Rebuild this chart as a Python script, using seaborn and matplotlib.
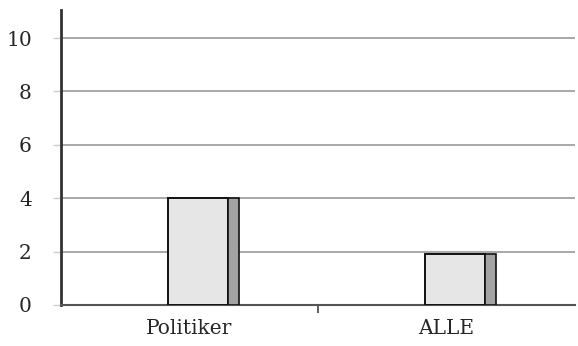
import matplotlib
matplotlib.use('Agg')
import matplotlib.pyplot as plt
import seaborn as sns
import pandas as pd

# data
categories = ['Politiker', 'ALLE']
values = [4.0, 1.9]
yticks = [0, 2, 4, 6, 8, 10]

sns.set_style('white')
plt.rcParams['font.family'] = ['DejaVu Serif']

df = pd.DataFrame({'kategorie': categories, 'wert': values})

fig = plt.figure(figsize=(5.78, 3.46), dpi=100)
ax = fig.add_axes([61/578, 41/346, 514/578, 295/346])

# front face of the bars
sns.barplot(data=df, x='kategorie', y='wert', width=0.234, color='#e6e6e6',
            edgecolor='#111111', linewidth=1.4, saturation=1, ax=ax, zorder=3)
for p in ax.patches:
    p.set_x(p.get_x() + 0.033)

# darker side face
xs = [i + 0.15 for i in range(len(categories))]
ax.bar(xs, values, width=0.043, align='edge', color='#a3a3a3',
       edgecolor='#111111', linewidth=1.2, zorder=3)

ax.set_xlim(-0.5, 1.5)
ax.set_ylim(0, 11.05)
ax.set_yticks(yticks)
ax.yaxis.grid(True, color='#9a9a9a', linewidth=1.2, zorder=0)
ax.set_axisbelow(True)

ax.set_xlabel('')
ax.set_ylabel('')
ax.set_xticks([0, 1])
ax.set_xticklabels(categories)
ax.set_xticks([0.5], minor=True)
ax.tick_params(axis='x', which='major', length=0, pad=10, labelsize=14.5)
ax.tick_params(axis='x', which='minor', length=6, width=1.2, color='#444444', direction='out', bottom=True)
ax.tick_params(axis='y', length=6, width=1, color='#cccccc', pad=15, labelsize=14.5, left=True)

sns.despine(ax=ax)
ax.spines['left'].set_color('#333333')
ax.spines['left'].set_linewidth(2)
ax.spines['bottom'].set_color('#555555')
ax.spines['bottom'].set_linewidth(1.5)

fig.savefig('out.png', dpi=100)
